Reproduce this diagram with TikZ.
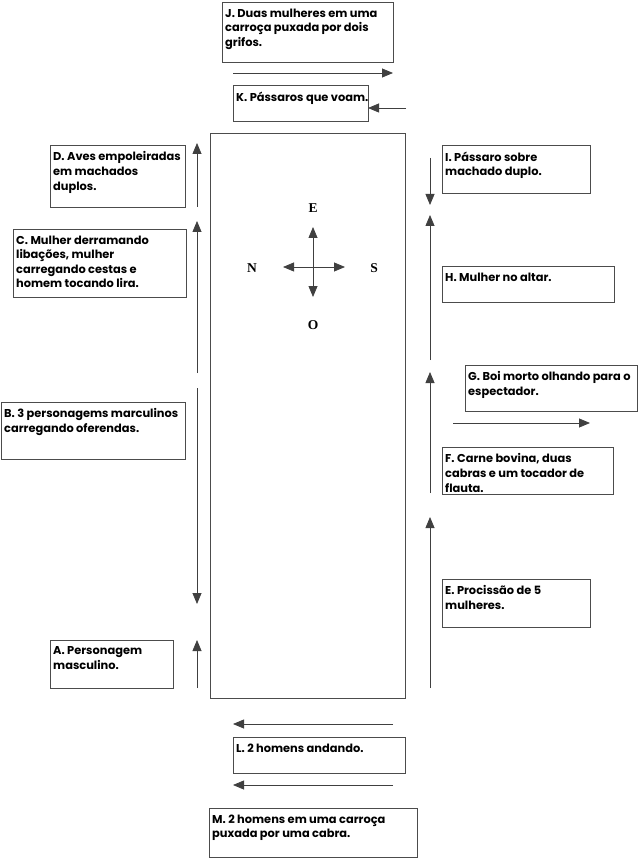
\documentclass[tikz,border=0pt]{standalone}
\usepackage{fontspec}
\setmainfont{Poppins}
\newfontfamily\compassfont{Liberation Serif}
\usetikzlibrary{arrows.meta,calc}
\tikzset{
  boxst/.style={draw=black!70, line width=0.8pt, inner sep=0pt, anchor=north west},
  txt/.style={inner sep=0pt, anchor=north west, align=left, font=\fontsize{11.4}{14.6}\selectfont\bfseries, text=black},
  arr/.style={draw=black!75, line width=0.8pt, -{Triangle[length=11pt,width=9pt]}},
  cmp/.style={font=\compassfont\fontsize{13.5}{15}\selectfont\bfseries, inner sep=0pt},
}
\newcommand{\tbox}[6]{%
  \node[boxst, minimum width=#4, minimum height=#5] (#1) at (#2,#3) {};
  \node[txt] (#1t) at ($(#1.north west)+(3,6.5)$) {#6};
}
\begin{document}
\begin{tikzpicture}[x=1pt,y=-1pt]
\useasboundingbox (0,0) rectangle (640,858);
% central rectangle
\node[boxst, minimum width=195, minimum height=565] (main) at (210,133) {};
% boxes
\tbox{J}{222}{2}{171}{60}{J. Duas mulheres em uma\\carroça puxada por dois\\grifos.}
\tbox{K}{233}{85}{135}{36}{K. Pássaros que voam.}
\tbox{D}{50}{145}{135}{62}{D. Aves empoleiradas\\em machados\\duplos.}
\tbox{C}{13}{229}{173}{68}{C. Mulher derramando\\libações, mulher\\carregando cestas e\\homem tocando lira.}
\tbox{B}{1}{402}{184}{57}{B. 3 personagems marculinos\\carregando oferendas.}
\tbox{A}{50}{640}{123}{48}{A. Personagem\\masculino.}
\tbox{I}{442}{145}{148}{48}{I. Pássaro sobre\\machado duplo.}
\tbox{H}{442}{266}{172}{36}{H. Mulher no altar.}
\tbox{G}{465}{365}{172}{46}{G. Boi morto olhando para o\\espectador.}
\tbox{F}{442}{447}{171}{47}{F. Carne bovina, duas\\cabras e um tocador de\\flauta.}
\tbox{E}{442}{579}{148}{48}{E. Procissão de 5\\mulheres.}
\tbox{L}{233}{737}{172}{36}{L. 2 homens andando.}
\tbox{M}{209}{808}{208}{49}{M. 2 homens em uma carroça\\puxada por uma cabra.}
% arrow end coordinates
\coordinate (j1) at (233,73);   \coordinate (j2) at (393,73);
\coordinate (k1) at (406,108);  \coordinate (k2) at (368,108);
\coordinate (d1) at (197,207);  \coordinate (d2) at (197,143);
\coordinate (c1) at (197,373);  \coordinate (c2) at (197,221);
\coordinate (b1) at (197,388);  \coordinate (b2) at (197,604);
\coordinate (a1) at (197,688);  \coordinate (a2) at (197,640);
\coordinate (i1) at (430,158);  \coordinate (i2) at (430,205);
\coordinate (h1) at (430,360);  \coordinate (h2) at (430,215);
\coordinate (f1) at (430,493);  \coordinate (f2) at (430,372);
\coordinate (e1) at (430,688);  \coordinate (e2) at (430,517);
\coordinate (g1) at (453,423);  \coordinate (g2) at (590,423);
\coordinate (l1) at (393,724);  \coordinate (l2) at (233,724);
\coordinate (m1) at (393,785);  \coordinate (m2) at (233,785);
\foreach \p in {j,k,d,c,b,a,i,h,f,e,g,l,m}{\draw[arr] (\p1) -- (\p2);}
% compass
\coordinate (ctr) at (313,267);
\coordinate (cu) at (313,227); \coordinate (cd) at (313,297);
\coordinate (cl) at (283,267); \coordinate (cr) at (345,267);
\draw[arr] (ctr) -- (cu);
\draw[arr] (ctr) -- (cd);
\draw[arr] (ctr) -- (cl);
\draw[arr] (ctr) -- (cr);
\node[cmp] (nE) at (313,208) {E};
\node[cmp] (nO) at (313,325) {O};
\node[cmp] (nN) at (252,268) {N};
\node[cmp] (nS) at (374,268) {S};
\end{tikzpicture}
\end{document}
